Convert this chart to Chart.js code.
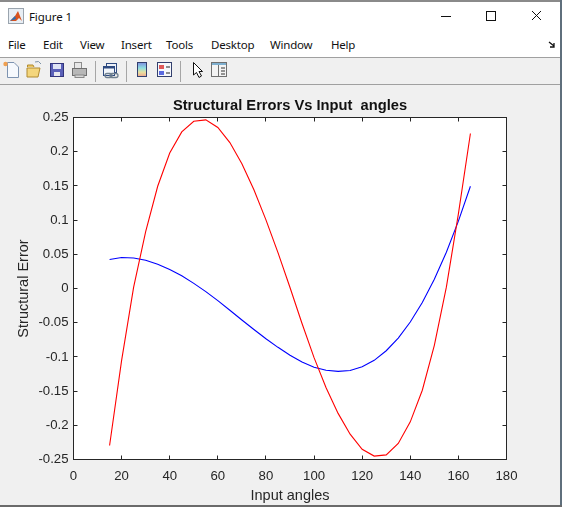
<!DOCTYPE html>
<html><head><meta charset="utf-8">
<script src="https://cdn.jsdelivr.net/npm/chart.js@4"></script>
<style>
html,body{margin:0;padding:0;background:#fff;overflow:hidden}
#win{position:relative;width:562px;height:507px;overflow:hidden;background:#fff;font-family:"Open Sans","Noto Sans",sans-serif;color:#111}
.abs{position:absolute}
#topb{left:0;top:0;width:562px;height:2px;background:#8a8a8a}
#rb{left:560px;top:0;width:2px;height:507px;background:#5f6f7c}
#bb{left:0;top:505px;width:562px;height:2px;background:#6a6a6a}
#tb{left:0;top:58px;width:560px;height:26px;background:#f0f0f0}
#sep1{left:0;top:57px;width:560px;height:1px;background:#a0a0a0}
#sep2{left:0;top:84px;width:560px;height:1px;background:#a0a0a0}
#fig{left:0;top:85px;width:560px;height:420px;background:#f0f0f0}
.m{position:absolute;top:37px;font-size:11.5px;letter-spacing:-.2px;line-height:16px;font-family:"Noto Sans","Open Sans",sans-serif;color:#111}
#ttl{left:29px;top:9px;font-size:11.5px;letter-spacing:-.1px;line-height:16px;font-family:"Noto Sans",sans-serif}
canvas{position:absolute;left:0;top:85px}
</style></head>
<body><div id="win">
<div class="abs" id="fig"></div>
<div class="abs" id="tb"></div><div class="abs" id="sep1"></div><div class="abs" id="sep2"></div>
<div class="abs" id="ttl">Figure 1</div>
<span class="m" style="left:8px">File</span><span class="m" style="left:43px">Edit</span><span class="m" style="left:80px">View</span><span class="m" style="left:121px">Insert</span><span class="m" style="left:166px">Tools</span><span class="m" style="left:211px">Desktop</span><span class="m" style="left:270px">Window</span><span class="m" style="left:331px">Help</span>
<svg class="abs" style="left:0;top:0" width="562" height="90" xmlns="http://www.w3.org/2000/svg">
 <rect x="8.5" y="8.5" width="15" height="15" fill="#e8eef4" stroke="#9aa4ae"/>
 <path d="M10 21 L15 16 L18 11 L22 21 L19 18 L16 21Z" fill="#d9531e"/><path d="M10 21 L15 16 L16 19Z" fill="#2a6fb5"/>
 <path d="M441 16.5H451" stroke="#111"/><rect x="486.5" y="11.5" width="9" height="9" fill="none" stroke="#111"/>
 <path d="M532 11L541 20M541 11L532 20" stroke="#111"/>
 <path d="M549 42L554 46M554 43V47H550" stroke="#111" fill="none" stroke-width="1.3"/>
 <path d="M7.5 62.5H14L18.5 67V77.5H7.5Z" fill="#f6f9fd" stroke="#7d93b0"/><circle cx="5.5" cy="64" r="2.2" fill="#f0a050"/>
 <path d="M27 68H40L38 77H27Z" fill="#f4d67c" stroke="#b08a30"/><path d="M27.5 67V65H33L34 67" fill="#eec860" stroke="#b08a30"/><path d="M35 62Q39 60 41 64" stroke="#7c92a6" fill="none"/>
 <rect x="50.5" y="63.5" width="13" height="13" fill="#5a60b8" stroke="#33357c"/><rect x="53" y="64" width="8" height="5" fill="#dfe3f5"/><rect x="54" y="72" width="6" height="4" fill="#e8e8ee"/>
 <rect x="74.5" y="62.5" width="7" height="6" fill="#e8e8e8" stroke="#8c8c8c"/><rect x="72.5" y="68.5" width="14" height="7" fill="#b8b8b8" stroke="#707070"/><rect x="75" y="75" width="9" height="2.5" fill="#d8d8d8" stroke="#888"/>
 <path d="M95.5 61V82" stroke="#a6a6a6"/>
 <rect x="106.5" y="63.5" width="10" height="9" fill="#eef2f8" stroke="#2e4a80"/><rect x="103.5" y="66.5" width="11" height="9" fill="#f2f6fb" stroke="#2e4a80"/><rect x="103.5" y="66.5" width="11" height="2" fill="#2e4a80"/>
 <rect x="105" y="73.5" width="7" height="4" rx="2" fill="none" stroke="#6f8090" stroke-width="1.3"/><rect x="110" y="73.5" width="8" height="4" rx="2" fill="none" stroke="#6f8090" stroke-width="1.3"/>
 <path d="M126.5 61V82" stroke="#a6a6a6"/>
 <defs><linearGradient id="cb" x1="0" y1="0" x2="0" y2="1"><stop offset="0" stop-color="#7f8fe0"/><stop offset=".4" stop-color="#8fe0e0"/><stop offset=".7" stop-color="#e8e0a0"/><stop offset="1" stop-color="#f0a890"/></linearGradient></defs>
 <rect x="137.5" y="62.5" width="9" height="14" fill="url(#cb)" stroke="#33406e"/>
 <rect x="157.5" y="62.5" width="14" height="14" fill="#f6f8fc" stroke="#33406e"/><rect x="159" y="65" width="5" height="4" fill="#e05a5a"/><rect x="159" y="71" width="5" height="4" fill="#5a6ae0"/><path d="M166 67H170M166 73H170" stroke="#222"/>
 <path d="M180.5 61V82" stroke="#a6a6a6"/>
 <path d="M193.5 62.5V75L196.5 72.5L199 77.5L201.5 76L199 71.5H202.5Z" fill="#fff" stroke="#111"/>
 <rect x="211.5" y="62.5" width="15" height="14" fill="#f4f4f4" stroke="#707070"/><rect x="212" y="63" width="14" height="2" fill="#7fb0d0"/><path d="M218.5 65V76" stroke="#707070"/><path d="M221 68H225M221 71H225M221 74H225" stroke="#333"/>
</svg>
<div class="abs" id="topb"></div><div class="abs" id="rb"></div><div class="abs" id="bb"></div>
<canvas id="c" width="560" height="420" style="width:560px;height:420px"></canvas>
</div>
<script>
const angles = [15,20,25,30,35,40,45,50,55,60,65,70,75,80,85,90,95,100,105,110,115,120,125,130,135,140,145,150,155,160,165];
const redErrors = [-0.2295,-0.105,0.002,0.083,0.1495,0.198,0.229,0.2445,0.2465,0.2354,0.2134,0.1824,0.1444,0.1004,0.0524,0.0014,-0.0511,-0.1011,-0.145,-0.1826,-0.213,-0.235,-0.245,-0.2433,-0.2266,-0.195,-0.1487,-0.083,0.002,0.109,0.2266];
const blueErrors = [0.0424,0.0453,0.0447,0.0414,0.0355,0.0278,0.0185,0.0075,-0.0045,-0.0177,-0.0318,-0.046,-0.06,-0.0735,-0.086,-0.0975,-0.1075,-0.115,-0.1195,-0.1212,-0.12,-0.1145,-0.105,-0.091,-0.0725,-0.049,-0.0205,0.0135,0.053,0.0985,0.1495];
const xTicks = [0,20,40,60,80,100,120,140,160,180];
const yTicks = [-0.25,-0.2,-0.15,-0.1,-0.05,0,0.05,0.1,0.15,0.2,0.25];
const titleText = "Structural Errors Vs Input  angles";
const xLabel = "Input angles";
const yLabel = "Structural Error";
const ink = "#262626";

const frame = {
  id:"frame",
  beforeDatasetsDraw(c){
    const g=c.ctx,a=c.chartArea;
    g.save();g.fillStyle="#fff";g.fillRect(a.left,a.top,a.width,a.height);g.restore();
  },
  afterDatasetsDraw(c){
    const g=c.ctx,a=c.chartArea,x=c.scales.x,y=c.scales.y;
    g.save();g.strokeStyle=ink;g.lineWidth=1;
    g.strokeRect(a.left,a.top,a.width,a.height);
    g.beginPath();
    xTicks.forEach(v=>{const p=Math.round(x.getPixelForValue(v)-.5)+.5;g.moveTo(p,a.bottom);g.lineTo(p,a.bottom-4);g.moveTo(p,a.top);g.lineTo(p,a.top+4);});
    yTicks.forEach(v=>{const p=Math.round(y.getPixelForValue(v)-.5)+.5;g.moveTo(a.left,p);g.lineTo(a.left+4,p);g.moveTo(a.right,p);g.lineTo(a.right-4,p);});
    g.stroke();g.restore();
  }
};
new Chart(document.getElementById("c"),{
  type:"line",
  data:{labels:angles,datasets:[
    {label:"Red",data:angles.map((a,i)=>({x:a,y:redErrors[i]})),borderColor:"#ff0000",borderWidth:1.1,pointRadius:0,tension:0,fill:false},
    {label:"Blue",data:angles.map((a,i)=>({x:a,y:blueErrors[i]})),borderColor:"#0000ff",borderWidth:1.1,pointRadius:0,tension:0,fill:false}
  ]},
  options:{
    responsive:false,animation:false,devicePixelRatio:1,
    layout:{padding:{left:15.5,right:53.5,top:0,bottom:0}},
    plugins:{
      legend:{display:false},tooltip:{enabled:false},
      title:{display:true,fullSize:false,text:titleText,color:"#111",font:{family:"Liberation Sans",size:14.7,weight:"bold",lineHeight:1.2},padding:{top:12,bottom:2.86}}
    },
    scales:{
      x:{type:"linear",min:0,max:180,
        afterBuildTicks(s){s.ticks=xTicks.map(v=>({value:v}));},
        afterFit(s){s.height=45.5;},
        grid:{display:false,tickLength:0},border:{display:false},
        ticks:{color:ink,font:{family:"Liberation Sans",size:13.2},padding:9,maxRotation:0,autoSkip:false,callback:v=>String(v)},
        title:{display:true,text:xLabel,color:ink,font:{family:"Liberation Sans",size:14.5},padding:{top:2,bottom:0}}},
      y:{type:"linear",min:-0.25,max:0.25,
        afterBuildTicks(s){s.ticks=yTicks.map(v=>({value:v}));},
        afterFit(s){s.width=58;},
        grid:{display:false,tickLength:0},border:{display:false},
        ticks:{color:ink,font:{family:"Liberation Sans",size:13.2},padding:5,autoSkip:false,callback:v=>String(+v.toFixed(2))},
        title:{display:true,text:yLabel,color:ink,font:{family:"Liberation Sans",size:14.5},padding:{top:0,bottom:0}}}
    }
  },
  plugins:[frame]
});
</script>
</body></html>
